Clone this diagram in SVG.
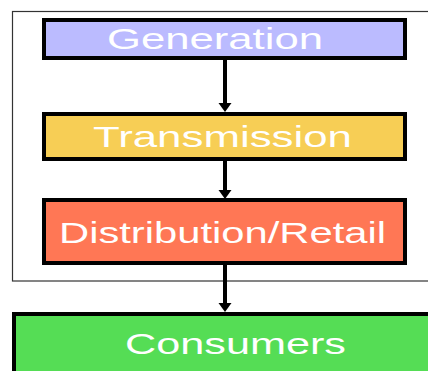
<svg xmlns="http://www.w3.org/2000/svg" width="428" height="371" viewBox="0 0 428 371">
<style>
.box{stroke:#000;stroke-width:4}
.lbl{font-family:"Liberation Sans",Arial,sans-serif;font-size:29px;fill:#fff}
.conn line{stroke:#000;stroke-width:4}
.conn polygon{fill:#000}
</style>
<rect x="0" y="0" width="428" height="371" fill="#fff"/>
<rect id="frame" x="12.5" y="11.5" width="430" height="269.5" fill="none" stroke="#333" stroke-width="1.2"/>
<g class="conn">
<line x1="225" y1="60" x2="225" y2="104"/>
<polygon points="218.5,103 231.5,103 225,112"/>
<line x1="225" y1="161" x2="225" y2="191"/>
<polygon points="218.5,190 231.5,190 225,199"/>
<line x1="225" y1="265" x2="225" y2="304"/>
<polygon points="218.5,303 231.5,303 225,312"/>
</g>
<g id="generation">
<rect class="box" x="44" y="20" width="361" height="38" fill="#BBBBFF"/>
<text class="lbl" x="107" y="49" textLength="216" lengthAdjust="spacingAndGlyphs">Generation</text>
</g>
<g id="transmission">
<rect class="box" x="44" y="114" width="361" height="45" fill="#F7CE55"/>
<text class="lbl" x="93" y="147" textLength="259" lengthAdjust="spacingAndGlyphs">Transmission</text>
</g>
<g id="distribution">
<rect class="box" x="44" y="200" width="361" height="63" fill="#FF7755"/>
<text class="lbl" x="59" y="243" textLength="327" lengthAdjust="spacingAndGlyphs">Distribution/Retail</text>
</g>
<g id="consumers">
<rect class="box" x="14" y="314" width="430" height="70" fill="#55DD55"/>
<text class="lbl" x="125" y="354" textLength="221" lengthAdjust="spacingAndGlyphs">Consumers</text>
</g>
</svg>
